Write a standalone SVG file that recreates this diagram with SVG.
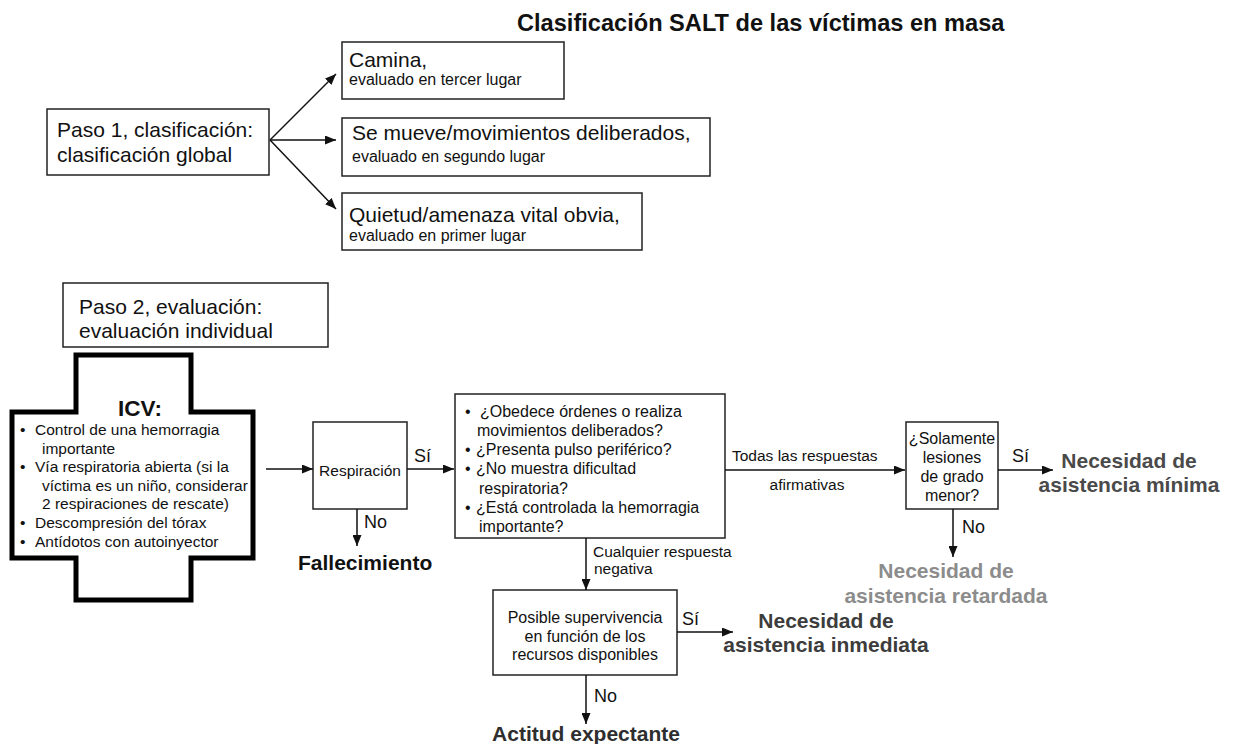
<svg xmlns="http://www.w3.org/2000/svg" width="1244" height="744" viewBox="0 0 1244 744">
<style>
text{font-family:"Liberation Sans",Arial,Helvetica,sans-serif;fill:#111}
.box{fill:#fff;stroke:#222;stroke-width:1.5}
.big{font-size:21px}
.sm{font-size:16px}
.icvt{font-size:15.5px}
.mid{font-size:15.5px}
.lab{font-size:18px}
.out{font-size:21px;font-weight:bold}
.c{text-anchor:middle}
.ln{stroke:#111;stroke-width:1.5;fill:none;marker-end:url(#ah)}
</style>
<defs>
<marker id="ah" markerWidth="11" markerHeight="9" refX="11" refY="4.5" orient="auto" markerUnits="userSpaceOnUse">
<path d="M0,0 L11,4.5 L0,9 Z" fill="#111"/>
</marker>
</defs>
<rect width="1244" height="744" fill="#fff"/>
<text id="title" x="517" y="31" font-size="23.6" font-weight="bold">Clasificación SALT de las víctimas en masa</text>

<g id="paso1">
<rect class="box" x="47" y="109" width="222" height="66"/>
<text class="big" x="57" y="137">Paso 1, clasificación:</text>
<text class="big" x="57" y="162">clasificación global</text>
</g>
<g id="camina">
<rect class="box" x="342" y="42" width="222" height="57"/>
<text class="big" x="349" y="67">Camina,</text>
<text class="sm" x="349" y="85">evaluado en tercer lugar</text>
</g>
<g id="semueve">
<rect class="box" x="342" y="118" width="368" height="58"/>
<text class="big" x="352" y="140">Se mueve/movimientos deliberados,</text>
<text class="sm" x="352" y="162">evaluado en segundo lugar</text>
</g>
<g id="quietud">
<rect class="box" x="342" y="193" width="300" height="57"/>
<text class="big" x="349" y="222">Quietud/amenaza vital obvia,</text>
<text class="sm" x="349" y="241">evaluado en primer lugar</text>
</g>

<g id="paso2">
<rect class="box" x="63" y="283" width="265" height="64"/>
<text class="big" x="79" y="314">Paso 2, evaluación:</text>
<text class="big" x="79" y="338">evaluación individual</text>
</g>

<g id="icv">
<path d="M76,355 H191 V412 H253 V558 H191 V600 H76 V558 H12 V412 H76 Z" fill="#fff" stroke="#000" stroke-width="5" stroke-linejoin="miter"/>
<text x="140" y="416" font-size="22.5" font-weight="bold" class="c">ICV:</text>
<g class="icvt">
<text x="20" y="435">•</text><text x="35" y="435">Control de una hemorragia</text>
<text x="42" y="453.6">importante</text>
<text x="20" y="472.2">•</text><text x="35" y="472.2">Vía respiratoria abierta (si la</text>
<text x="42" y="490.8">víctima es un niño, considerar</text>
<text x="42" y="509.4">2 respiraciones de rescate)</text>
<text x="20" y="528">•</text><text x="35" y="528">Descompresión del tórax</text>
<text x="20" y="546.6">•</text><text x="35" y="546.6">Antídotos con autoinyector</text>
</g>
</g>

<g id="respiracion">
<rect class="box" x="313" y="422" width="94" height="87"/>
<text class="mid c" x="360" y="476">Respiración</text>
</g>

<g id="preguntas">
<rect class="box" x="455" y="394" width="270" height="144"/>
<g class="sm">
<text x="465" y="417">•</text><text x="480" y="417">¿Obedece órdenes o realiza</text>
<text x="477" y="436">movimientos deliberados?</text>
<text x="465" y="455">•</text><text x="476" y="455">¿Presenta pulso periférico?</text>
<text x="465" y="474">•</text><text x="476" y="474">¿No muestra dificultad</text>
<text x="479" y="494">respiratoria?</text>
<text x="465" y="513">•</text><text x="476" y="513">¿Está controlada la hemorragia</text>
<text x="479" y="532">importante?</text>
</g>
</g>

<g id="solamente">
<rect class="box" x="906" y="422" width="92" height="87"/>
<g class="sm c">
<text x="952" y="444">¿Solamente</text>
<text x="952" y="463">lesiones</text>
<text x="952" y="482">de grado</text>
<text x="952" y="501">menor?</text>
</g>
</g>

<g id="posible">
<rect class="box" x="493" y="590" width="184" height="85"/>
<g class="sm c">
<text x="585" y="623">Posible supervivencia</text>
<text x="585" y="641.5">en función de los</text>
<text x="585" y="660">recursos disponibles</text>
</g>
</g>

<g id="fallecimiento"><text class="out" x="298" y="570">Fallecimiento</text></g>
<g id="minima">
<text class="out c" x="1129" y="468" style="fill:#4a4a4a">Necesidad de</text>
<text class="out c" x="1129" y="492" style="fill:#4a4a4a">asistencia mínima</text>
</g>
<g id="retardada">
<text class="out c" x="946" y="578" style="fill:#8c8c8c">Necesidad de</text>
<text class="out c" x="946" y="603" style="fill:#8c8c8c">asistencia retardada</text>
</g>
<g id="inmediata">
<text class="out c" x="826" y="628" style="fill:#3c3c3c">Necesidad de</text>
<text class="out c" x="826" y="652" style="fill:#3c3c3c">asistencia inmediata</text>
</g>
<g id="expectante"><text class="out c" x="586" y="741" style="fill:#2e2e2e">Actitud expectante</text></g>

<g id="connectors">
<line class="ln" x1="270" y1="140" x2="336" y2="74"/>
<line class="ln" x1="270" y1="140" x2="336" y2="140"/>
<line class="ln" x1="270" y1="140" x2="336" y2="209"/>
<line class="ln" x1="266" y1="469" x2="313" y2="469"/>
<line class="ln" x1="407" y1="469" x2="454" y2="469"/>
<line class="ln" x1="357" y1="509" x2="357" y2="546"/>
<line class="ln" x1="725" y1="470" x2="905" y2="470"/>
<line class="ln" x1="998" y1="470" x2="1053" y2="470"/>
<line class="ln" x1="953" y1="509" x2="953" y2="557"/>
<line class="ln" x1="586" y1="538" x2="586" y2="590"/>
<line class="ln" x1="677" y1="632" x2="733" y2="632"/>
<line class="ln" x1="586" y1="675" x2="586" y2="724"/>
<text class="lab" x="414" y="462">Sí</text>
<text class="lab" x="364" y="528">No</text>
<text class="mid" x="732" y="461">Todas las respuestas</text>
<text class="mid c" x="807" y="490">afirmativas</text>
<text class="lab" x="1012" y="462">Sí</text>
<text class="lab" x="962" y="533">No</text>
<text class="mid" x="593" y="557">Cualquier respuesta</text>
<text class="mid" x="594" y="574">negativa</text>
<text class="lab" x="682" y="625">Sí</text>
<text class="lab" x="594" y="702">No</text>
</g>
</svg>
